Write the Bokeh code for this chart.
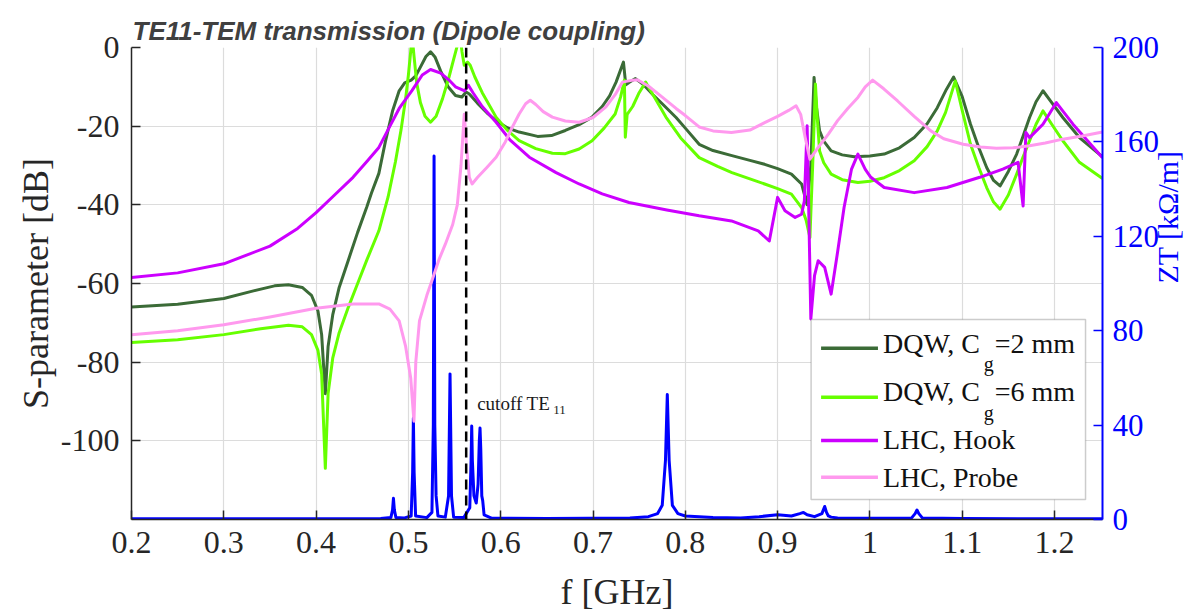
import math
from bokeh.plotting import figure
from bokeh.models import (Range1d, LinearAxis, Span, Label, BoxAnnotation,
                          FixedTicker, NumeralTickFormatter)
from bokeh.embed import file_html
from bokeh.resources import INLINE

# ---------------- data ----------------
x_ticks = [0.2, 0.3, 0.4, 0.5, 0.6, 0.7, 0.8, 0.9, 1.0, 1.1, 1.2]
y_ticks = [-100, -80, -60, -40, -20, 0]
zt_ticks = [0, 40, 80, 120, 160, 200]
cutoff_f = 0.5626

f_dqw2 = [0.2, 0.25, 0.3, 0.33, 0.355, 0.37, 0.385, 0.395, 0.402, 0.406, 0.41, 0.413, 0.418,
          0.425, 0.435, 0.445, 0.455, 0.46, 0.468, 0.475, 0.483, 0.49, 0.496, 0.503, 0.508,
          0.513, 0.519, 0.524, 0.529, 0.535, 0.543, 0.551, 0.558, 0.5625, 0.566, 0.575, 0.585,
          0.595, 0.607, 0.62, 0.64, 0.655, 0.67, 0.685, 0.699, 0.71, 0.718, 0.725, 0.733,
          0.7355, 0.739, 0.746, 0.755, 0.765, 0.775, 0.79, 0.8, 0.815, 0.83, 0.8505, 0.87,
          0.886, 0.9, 0.915, 0.926, 0.932, 0.936, 0.9395, 0.942, 0.9455, 0.95, 0.958, 0.97,
          0.983, 1.0, 1.0155, 1.032, 1.048, 1.062, 1.073, 1.083, 1.0907, 1.1, 1.109, 1.118,
          1.1265, 1.134, 1.141, 1.15, 1.159, 1.166, 1.173, 1.18, 1.1875, 1.197, 1.209, 1.227,
          1.252]
s_dqw2 = [-66, -65.3, -63.8, -62, -60.6, -60.3, -61, -63, -67, -73, -88, -76, -68,
          -61, -54, -47, -40.5, -37, -32, -24, -16, -11, -9, -8.3, -7.2,
          -5, -2.3, -1.1, -2.5, -6, -10, -12.2, -12.6, -11.3, -11.8, -14.2, -16.6,
          -18.6, -20.4, -21.5, -22.6, -22.4, -21.1, -19.6, -17.7, -15, -12.3, -8.8, -3.7,
          -9.5, -8.9, -7.9, -9.5, -12, -14.3, -17.8, -20.5, -24.6, -26.2, -27.5, -28.7,
          -29.7, -30.8, -32.2, -34.7, -40, -30, -7.6, -15, -21.2, -23.8, -26.3, -27.3,
          -27.8, -27.6, -27.1, -25.5, -22.9, -19.4, -15.3, -10.6, -7.5, -12.5, -19.5, -25.5,
          -30.5, -33.8, -35.2, -31.5, -27.1, -22.5, -17.8, -13.8, -11, -14, -17.8, -22.9,
          -27.8]

f_dqw6 = [0.2, 0.25, 0.3, 0.34, 0.37, 0.385, 0.395, 0.402, 0.406, 0.41, 0.413, 0.418, 0.425,
          0.435, 0.445, 0.455, 0.468, 0.478, 0.486, 0.492, 0.497, 0.5, 0.5025, 0.504, 0.506,
          0.509, 0.513, 0.518, 0.524, 0.53, 0.537, 0.544, 0.549, 0.553, 0.556, 0.558, 0.5605,
          0.564, 0.567, 0.572, 0.58, 0.595, 0.607, 0.62, 0.638, 0.656, 0.67, 0.685, 0.699,
          0.712, 0.724, 0.73, 0.734, 0.735, 0.737, 0.743, 0.75, 0.757, 0.765, 0.779, 0.795,
          0.815, 0.835, 0.8505, 0.87, 0.886, 0.9, 0.915, 0.926, 0.931, 0.935, 0.938, 0.941,
          0.943, 0.9455, 0.95, 0.958, 0.97, 0.987, 1.0, 1.0155, 1.032, 1.048, 1.062, 1.073,
          1.082, 1.0925, 1.1, 1.109, 1.118, 1.1265, 1.134, 1.141, 1.15, 1.159, 1.166, 1.173,
          1.18, 1.1875, 1.197, 1.209, 1.227, 1.252]
s_dqw6 = [-75, -74.3, -73, -71.5, -70.6, -71, -73, -77, -83, -107, -88, -79, -72.5,
          -66, -60, -54, -46.6, -38, -29, -21, -13, -7, -1, 3, -2,
          -9, -14, -17.5, -19, -17.5, -13, -7.5, -3, 0.5, 3, -1, -4.5,
          -3.7, -4.5, -7.5, -11.5, -17.7, -21, -23.7, -25.7, -26.9, -27, -25.8, -23.7,
          -20.5, -16.9, -12.5, -8.3, -22.8, -17, -15, -11.5, -8.8, -12, -17.7, -23,
          -28, -30.2, -31.8, -33.4, -34.7, -35.9, -37.3, -40.7, -44, -48.3, -30, -9.3,
          -18, -26.3, -29.3, -32.2, -33.6, -34.3, -34, -33.1, -31.3, -28.8, -25.2, -21.2,
          -16.5, -8.5, -16, -24.6, -30.5, -35.6, -39.3, -41.1, -37.5, -32.2, -27.8, -23.7,
          -19.5, -16.1, -19.5, -23.7, -29.2, -33.3]

f_hook = [0.2, 0.25, 0.3, 0.35, 0.38, 0.4, 0.42, 0.44, 0.455, 0.468, 0.48, 0.49, 0.504, 0.515,
          0.524, 0.535, 0.545, 0.551, 0.561, 0.565, 0.57, 0.58, 0.595, 0.61, 0.631, 0.66,
          0.685, 0.71, 0.739, 0.78, 0.815, 0.85, 0.879, 0.891, 0.9, 0.908, 0.919, 0.926,
          0.929, 0.932, 0.936, 0.94, 0.944, 0.951, 0.958, 0.965, 0.972, 0.98, 0.987, 0.995,
          1.001, 1.0155, 1.048, 1.0835, 1.119, 1.144, 1.1605, 1.166, 1.169, 1.173, 1.1875,
          1.202, 1.22, 1.252]
s_hook = [-58.5, -57.3, -55, -50.5, -46, -42, -37.5, -33, -29, -25.4, -20, -15.5, -10.9, -7,
          -5.6, -6.5, -8.5, -10, -11, -9.6, -11.5, -15, -19, -23.5, -27.9, -31.8,
          -34.7, -37.2, -39.4, -41.3, -42.8, -44.1, -46.6, -49.2, -38.1, -41.5, -43.2, -42.4,
          -39, -19.9, -69, -58, -54.2, -55.9, -62.7, -52, -40.7, -31, -27.1, -31,
          -33, -35.6, -36.9, -35.6, -33, -30.9, -29.2, -40.3, -21.6, -22.9, -19.5,
          -14, -19.5, -28]

f_probe = [0.2, 0.25, 0.3, 0.35, 0.4, 0.44, 0.468, 0.48, 0.49, 0.497, 0.5025, 0.506, 0.508,
           0.512, 0.52, 0.526, 0.533, 0.54, 0.548, 0.553, 0.557, 0.5605, 0.563, 0.566, 0.569,
           0.575, 0.585, 0.595, 0.605, 0.612, 0.62, 0.627, 0.632, 0.638, 0.646, 0.656, 0.67,
           0.685, 0.7, 0.714, 0.724, 0.732, 0.743, 0.748, 0.76, 0.775, 0.79, 0.8, 0.815, 0.83,
           0.85, 0.87, 0.886, 0.9, 0.912, 0.92, 0.925, 0.93, 0.935, 0.944, 0.955, 0.965, 0.976,
           0.987, 0.995, 1.003, 1.015, 1.03, 1.048, 1.066, 1.08, 1.101, 1.12, 1.137, 1.155,
           1.173, 1.19, 1.209, 1.23, 1.252]
s_probe = [-73, -72, -70.5, -68.5, -66.3, -65.2, -65.2, -66.5, -69.5, -76, -84, -95, -80,
           -69.5, -63, -58.9, -54, -50, -45, -40, -30, -17, -25, -33, -34.7,
           -33, -30.5, -27.9, -24, -20.5, -16.9, -14.3, -13.4, -14.5, -16.3, -17.7, -18.7,
           -19, -17.8, -15.1, -12, -8.8, -8.3, -8.2, -9.8, -12.6, -15.5, -17.3, -20.2, -21.2,
           -21.6, -21, -19.1, -17.5, -16, -14.8, -17, -23, -28.4, -25.4, -22, -18.6, -15.5,
           -12.7, -10, -8.3, -10.5, -13.6, -17.5, -21.2, -23.2, -24.6, -25.3, -25.6, -25.5,
           -25, -24.3, -23.3, -22.5, -21.5]

f_zt = [0.2, 0.3, 0.4, 0.47, 0.481, 0.4828, 0.4838, 0.4848, 0.4865, 0.495, 0.503, 0.5046,
        0.5054, 0.5062, 0.5078, 0.52, 0.5255, 0.527, 0.5278, 0.5286, 0.53, 0.5305, 0.532,
        0.54, 0.5435, 0.5451, 0.5467, 0.549, 0.56, 0.5665, 0.5679, 0.5686, 0.5693, 0.571,
        0.5735, 0.5755, 0.5768, 0.5776, 0.5784, 0.5795, 0.5805, 0.582, 0.59, 0.65, 0.74,
        0.76, 0.77, 0.775, 0.7785, 0.7805, 0.7825, 0.786, 0.792, 0.80, 0.83, 0.86, 0.88,
        0.9, 0.915, 0.924, 0.928, 0.932, 0.94, 0.948, 0.951, 0.953, 0.955, 0.958, 0.965,
        1.0, 1.045, 1.049, 1.051, 1.053, 1.057, 1.1, 1.2, 1.252]
z_zt = [0.3, 0.3, 0.3, 0.4, 0.8, 4, 9, 4, 0.8, 0.6, 1.5, 20,
        43, 20, 1.5, 0.8, 3, 40, 154, 40, 10, 8, 1.5,
        1, 10, 61.7, 10, 1, 0.8, 5, 25, 39.6, 25, 10,
        7, 15, 33, 38.8, 30, 10, 8, 2, 0.6, 0.4, 0.6,
        1.2, 2.5, 6, 25, 53, 25, 6, 2.5, 1.5, 0.8, 0.6, 1.2,
        2, 1.5, 2.5, 3, 2, 1.2, 2.5, 5.5, 3, 1.5, 1, 0.6,
        0.5, 0.6, 2.5, 4, 2.5, 0.6, 0.4, 0.3, 0.3]

# legend entries: (prefix, subscript, suffix)
legend_entries = [("DQW, C", "g", "=2 mm"), ("DQW, C", "g", "=6 mm"),
                  ("LHC, Hook", "", ""), ("LHC, Probe", "", "")]
series_colors = ["#3B6B37", "#66FF00", "#CC00FF", "#FF99EE"]

# ---------------- figure ----------------
X0, X1 = 0.2, 1.252
Y0, Y1 = -120, 0
FR_L, FR_R, FR_T, FR_B = 131, 1104, 47, 519   # frame box in canvas pixels

SERIF = "Liberation Serif"
p = figure(width=1203, height=614, output_backend="svg", toolbar_location=None,
           x_range=Range1d(X0, X1), y_range=Range1d(Y0, Y1),
           min_border_left=FR_L, min_border_right=1203 - FR_R,
           min_border_top=FR_T, min_border_bottom=614 - FR_B)
p.extra_y_ranges = {"zt": Range1d(0, 200)}
p.outline_line_color = None
p.background_fill_color = "white"


def px2x(px):
    return X0 + (px - FR_L) * (X1 - X0) / (FR_R - FR_L)


def py2y(py):
    return Y1 - (py - FR_T) * (Y1 - Y0) / (FR_B - FR_T)


p.title.text = "TE11-TEM transmission (Dipole coupling)"
p.title.text_font = "Liberation Sans"
p.title.text_font_style = "bold italic"
p.title.text_font_size = "26px"
p.title.text_color = "#404040"
p.title.align = "left"
p.title.offset = 1
p.title.standoff = 4

# grids
p.xgrid.ticker = FixedTicker(ticks=x_ticks)
p.ygrid.ticker = FixedTicker(ticks=y_ticks)
for g in (p.xgrid, p.ygrid):
    g.grid_line_color = "#DCDCDC"
    g.grid_line_width = 1.2

# axes
xa = p.xaxis[0]
ya = p.yaxis[0]
xa.ticker = FixedTicker(ticks=x_ticks)
xa.formatter = NumeralTickFormatter(format="0.[0]")
ya.ticker = FixedTicker(ticks=y_ticks)
ya.formatter = NumeralTickFormatter(format="0")
xa.axis_label = "f [GHz]"
ya.axis_label = "S-parameter [dB]"
for ax in (xa, ya):
    ax.axis_line_color = "#262626"
    ax.axis_line_width = 1.5
    ax.major_tick_line_color = "#262626"
    ax.major_tick_line_width = 1.5
    ax.major_tick_in = 9
    ax.major_tick_out = 0
    ax.minor_tick_line_color = None
    ax.major_label_text_font = SERIF
    ax.major_label_text_font_size = "32px"
    ax.major_label_text_color = "#262626"
    ax.major_label_standoff = 12
    ax.axis_label_text_font = SERIF
    ax.axis_label_text_font_size = "36px"
    ax.axis_label_text_font_style = "normal"
    ax.axis_label_text_color = "#262626"
xa.axis_label_standoff = 16
ya.axis_label_standoff = 2

# right axis: ticks and tick labels
ra = LinearAxis(y_range_name="zt", ticker=FixedTicker(ticks=zt_ticks))
ra.axis_line_color = "#0000FF"
ra.axis_line_width = 2
ra.major_tick_line_color = "#0000FF"
ra.major_tick_line_width = 1.5
ra.major_tick_in = 9
ra.major_tick_out = 0
ra.minor_tick_line_color = None
ra.major_label_text_font = SERIF
ra.major_label_text_font_size = "31px"
ra.major_label_text_color = "#0000FF"
ra.major_label_standoff = 10
p.add_layout(ra, "right")

# right axis title, carried by a bare axis (no line, no ticks) so it reads upwards, centred
ra_lab = LinearAxis(y_range_name="zt", ticker=FixedTicker(ticks=[]), bounds=(0, 140))
ra_lab.axis_line_color = None
ra_lab.major_tick_line_color = None
ra_lab.minor_tick_line_color = None
ra_lab.major_tick_in = 0
ra_lab.major_tick_out = 0
ra_lab.major_label_standoff = 0
ra_lab.axis_label = "ZT [k\u03a9/m]"
ra_lab.axis_label_text_font = SERIF
ra_lab.axis_label_text_font_size = "30px"
ra_lab.axis_label_text_font_style = "normal"
ra_lab.axis_label_text_color = "#0000FF"
ra_lab.axis_label_standoff = 5
if "axis_label_orientation" in ra_lab.properties():
    ra_lab.axis_label_orientation = math.pi / 2
p.add_layout(ra_lab, "right")

# ---------------- data lines ----------------
p.line(f_zt, z_zt, y_range_name="zt", line_color="#0000FF", line_width=3, line_join="round")
xs = [f_dqw2, f_dqw6, f_hook, f_probe]
ys = [s_dqw2, s_dqw6, s_hook, s_probe]
for fx, sy, col in zip(xs, ys, series_colors):
    p.line(fx, sy, line_color=col, line_width=3, line_join="round")

# cutoff marker
p.add_layout(Span(location=cutoff_f, dimension="height", line_color="black",
                  line_width=2.5, line_dash="10 6"))
p.add_layout(Label(x=cutoff_f, y=-90.5, x_offset=11, text="cutoff TE", text_font=SERIF,
                   text_font_size="19px", text_color="#1a1a1a", text_baseline="alphabetic"))
p.add_layout(Label(x=cutoff_f, y=-90.5, x_offset=87, y_offset=-7, text="11", text_font=SERIF,
                   text_font_size="13px", text_color="#1a1a1a", text_baseline="alphabetic"))

# ---------------- legend (drawn by hand so that the subscripts can be shown) ----------------
LG_L, LG_R, LG_T, LG_B = 812, 1087, 319, 499
text_rows = [342.5, 391, 439, 476.7]
line_rows = [347.7, 396.7, 440, 476.7]
p.add_layout(BoxAnnotation(left=px2x(LG_L), right=px2x(LG_R), top=py2y(LG_T), bottom=py2y(LG_B),
                           fill_color="white", fill_alpha=1.0, line_color="#555555",
                           line_width=1.5))
for (pre, sub, suf), col, ty, ly in zip(legend_entries, series_colors, text_rows, line_rows):
    p.add_layout(BoxAnnotation(left=px2x(822), right=px2x(879), top=py2y(ly - 1.7),
                               bottom=py2y(ly + 1.7), fill_color=col, fill_alpha=1.0,
                               line_color=None))
    p.add_layout(Label(x=px2x(884), y=py2y(ty), text=pre, text_font=SERIF,
                       text_font_size="28px", text_color="#111111", text_baseline="middle"))
    if sub:
        p.add_layout(Label(x=px2x(985), y=py2y(ty + 21), text=sub, text_font=SERIF,
                           text_font_size="20px", text_color="#111111",
                           text_baseline="alphabetic"))
        p.add_layout(Label(x=px2x(996), y=py2y(ty), text=suf, text_font=SERIF,
                           text_font_size="28px", text_color="#111111",
                           text_baseline="middle"))

open("out.html", "w").write(file_html(p, INLINE))
